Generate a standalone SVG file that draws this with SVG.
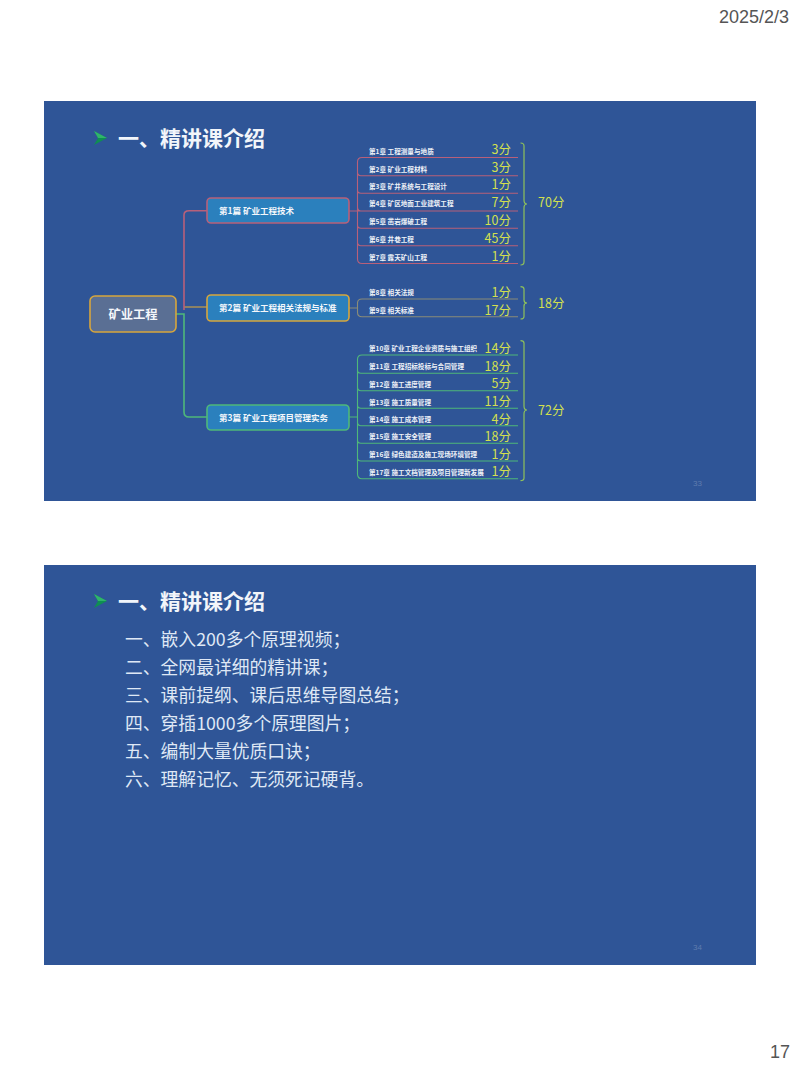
<svg xmlns="http://www.w3.org/2000/svg" width="800" height="1067" viewBox="0 0 800 1067">
<style>
text{font-family:"Noto Sans CJK SC","Noto Sans",sans-serif}
.slide{fill:#2f5597}
.title{font-size:21px;font-weight:700;fill:#f2f5fa}
.body{font-size:17.800px;fill:#dfe8f5}
.ch{font-size:6.600px;font-weight:700;fill:#eef2f8}
.sc{font-size:12.500px;fill:#d3e04e;text-anchor:end}
.tot{font-size:12.500px;fill:#d3e04e}
.pg{font-size:8px;fill:#5f7cae;font-family:"Liberation Sans",sans-serif}
.hd{font-size:18px;fill:#555;font-family:"Liberation Sans",sans-serif}
.nd{stroke-width:1.6}
.ndt{font-size:8.500px;font-weight:700;fill:#f4f7fb}
.ln{fill:none;stroke-width:1.100}
.tr{stroke-width:1.600}
.br{fill:none;stroke-width:1.200;stroke:#8fc25a}
.red{stroke:#b8607a}.gold{stroke:#d7a63c}.grn{stroke:#4fb87a}.gry{stroke:#8a8c78}
</style>
<defs>
<g id="bullet"><path d="M94 -7L107 0L94 7L98 0Z" fill="#0f8f52"/><path d="M94 -7L107 0L98 0Z" fill="#2fb56a"/></g>
</defs>
<rect width="800" height="1067" fill="#fff"/>
<text class="hd" x="719" y="23">2025/2/3</text>
<text class="hd" x="770" y="1058">17</text>
<rect class="slide" x="44" y="101" width="712" height="400"/>
<rect class="slide" x="44" y="565" width="712" height="400"/>
<use href="#bullet" y="138"/>
<text class="title" x="118" y="146">一、精讲课介绍</text>
<text class="pg" x="693" y="486">33</text>
<g id="connectors">
<path class="ln gold" d="M184 307H207"/>
<path class="ln red tr" d="M184 310V215Q184 210.700 189 210.700H207"/>
<path class="ln grn tr" d="M176 314H184V412Q184 417 189 417H207"/>
<path class="ln red" d="M349 211H518M518 157.500H362Q357.500 157.500 357.500 162V259Q357.500 263.500 362 263.500H518M518 175.700H361Q357.500 175.700 357.500 172M518 193.300H361Q357.500 193.300 357.500 190M357.500 207Q357.500 211 361 211M518 228.300H361Q357.500 228.300 357.500 225M518 245.700H361Q357.500 245.700 357.500 242"/>
<path class="ln gry" d="M349 308H357.500M518 299H362Q357.500 299 357.500 303V312.500Q357.500 316.700 362 316.700H518"/>
<path class="ln grn" d="M349 417H357.500M518 355H362Q357.500 355 357.500 359.500V474Q357.500 478.700 362 478.700H518M518 373.300H361Q357.500 373.300 357.500 370M518 390.700H361Q357.500 390.700 357.500 387M518 408.300H361Q357.500 408.300 357.500 405M518 425.700H361Q357.500 425.700 357.500 422M518 443.300H361Q357.500 443.300 357.500 440M518 461H361Q357.500 461 357.500 458"/>
<path class="br" d="M520.500 143Q524 143 524 146V200Q524 204 527 204Q524 204 524 208V262Q524 265 520.500 265"/>
<path class="br" d="M520.500 286.700Q524 286.700 524 289V300Q524 303 527 303Q524 303 524 306V316.500Q524 319 520.500 319"/>
<path class="br" d="M520.500 340.700Q524 340.700 524 343V406Q524 410 527 410Q524 410 524 414V478Q524 480.700 520.500 480.700"/>
</g>
<g id="root"><rect class="nd" x="90" y="296" width="86" height="36" rx="5" fill="#5a6f94" stroke="#d7a63c"/><text x="133" y="318.500" text-anchor="middle" style="font-size:12.300px;font-weight:700;fill:#f4f7fb">矿业工程</text></g>
<g id="part1"><rect class="nd red" x="207" y="198" width="142" height="25" rx="4" fill="#2b80bd"/><text class="ndt" x="219" y="213.500">第1篇 矿业工程技术</text></g>
<g id="part2"><rect class="nd gold" x="207" y="295" width="142" height="26" rx="4" fill="#2b80bd"/><text class="ndt" x="219" y="310.500">第2篇 矿业工程相关法规与标准</text></g>
<g id="part3"><rect class="nd grn" x="207" y="405" width="142" height="25" rx="4" fill="#2b80bd"/><text class="ndt" x="219" y="420.500">第3篇 矿业工程项目管理实务</text></g>
<g id="chapters">
<text class="ch" x="369" y="153.500">第1章 工程测量与地质</text>
<text class="ch" x="369" y="171.500">第2章 矿业工程材料</text>
<text class="ch" x="369" y="188.500">第3章 矿井系统与工程设计</text>
<text class="ch" x="369" y="206">第4章 矿区地面工业建筑工程</text>
<text class="ch" x="369" y="224">第5章 凿岩爆破工程</text>
<text class="ch" x="369" y="242">第6章 井巷工程</text>
<text class="ch" x="369" y="259.500">第7章 露天矿山工程</text>
<text class="ch" x="369" y="294.500">第8章 相关法规</text>
<text class="ch" x="369" y="312.500">第9章 相关标准</text>
<text class="ch" x="369" y="351">第10章 矿业工程企业资质与施工组织</text>
<text class="ch" x="369" y="369">第11章 工程招标投标与合同管理</text>
<text class="ch" x="369" y="386.500">第12章 施工进度管理</text>
<text class="ch" x="369" y="404.500">第13章 施工质量管理</text>
<text class="ch" x="369" y="422">第14章 施工成本管理</text>
<text class="ch" x="369" y="439">第15章 施工安全管理</text>
<text class="ch" x="369" y="457">第16章 绿色建造及施工现场环境管理</text>
<text class="ch" x="369" y="475">第17章 施工文档管理及项目管理新发展</text>
</g>
<g id="scores">
<text class="sc" x="511" y="153.500">3分</text>
<text class="sc" x="511" y="171.500">3分</text>
<text class="sc" x="511" y="188.500">1分</text>
<text class="sc" x="511" y="206.500">7分</text>
<text class="sc" x="511" y="224.500">10分</text>
<text class="sc" x="511" y="242.500">45分</text>
<text class="sc" x="511" y="260.500">1分</text>
<text class="sc" x="511" y="296.500">1分</text>
<text class="sc" x="511" y="314.500">17分</text>
<text class="sc" x="511" y="352.500">14分</text>
<text class="sc" x="511" y="370.500">18分</text>
<text class="sc" x="511" y="387.500">5分</text>
<text class="sc" x="511" y="405.500">11分</text>
<text class="sc" x="511" y="423.500">4分</text>
<text class="sc" x="511" y="440.500">18分</text>
<text class="sc" x="511" y="458.500">1分</text>
<text class="sc" x="511" y="475.500">1分</text>
<text class="tot" x="538" y="206.500">70分</text>
<text class="tot" x="538" y="307.500">18分</text>
<text class="tot" x="538" y="414.500">72分</text>
</g>
<use href="#bullet" y="601"/>
<text class="title" x="118" y="609">一、精讲课介绍</text>
<text class="body" x="125" y="646">一、嵌入200多个原理视频；</text>
<text class="body" x="125" y="674">二、全网最详细的精讲课；</text>
<text class="body" x="125" y="702">三、课前提纲、课后思维导图总结；</text>
<text class="body" x="125" y="730">四、穿插1000多个原理图片；</text>
<text class="body" x="125" y="758">五、编制大量优质口诀；</text>
<text class="body" x="125" y="786">六、理解记忆、无须死记硬背。</text>
<text class="pg" x="693" y="950">34</text>
</svg>
